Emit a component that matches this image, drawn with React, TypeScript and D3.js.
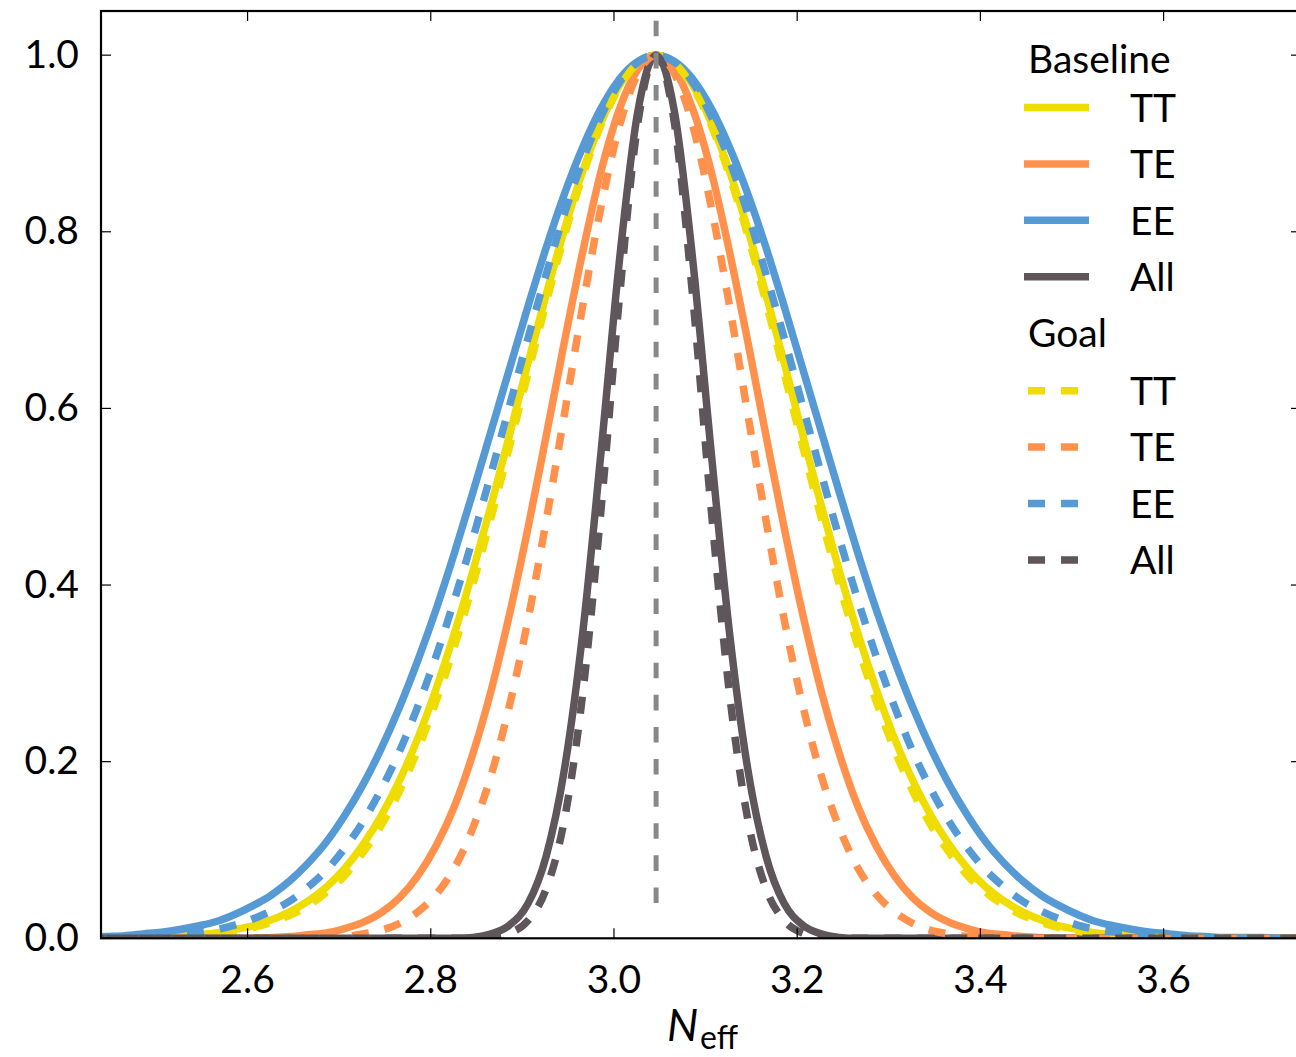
import React from 'react';
import * as d3 from 'd3';

// x grid (N_eff)
const xs = [
  2.426, 2.446, 2.466, 2.486, 2.506, 2.526, 2.546, 2.566, 2.586, 2.606,
  2.626, 2.646, 2.666, 2.686, 2.706, 2.726, 2.746, 2.766, 2.786, 2.806,
  2.826, 2.846, 2.866, 2.886, 2.906, 2.926, 2.946, 2.966, 2.986, 3.006,
  3.026, 3.046, 3.066, 3.086, 3.106, 3.126, 3.146, 3.166, 3.186, 3.206,
  3.226, 3.246, 3.266, 3.286, 3.306, 3.326, 3.346, 3.366, 3.386, 3.406,
  3.426, 3.446, 3.466, 3.486, 3.506, 3.526, 3.546, 3.566, 3.586, 3.606,
  3.626, 3.646, 3.666, 3.686, 3.706, 3.726, 3.746, 3.766,
];

const baselineTT = [
  0, 0, 0.001, 0.001, 0.002, 0.003, 0.004, 0.006, 0.010, 0.014,
  0.021, 0.030, 0.042, 0.058, 0.079, 0.106, 0.139, 0.179, 0.227, 0.283,
  0.346, 0.416, 0.491, 0.570, 0.651, 0.729, 0.803, 0.869, 0.924, 0.966, 0.991,
  1.0,
  0.991, 0.966, 0.924, 0.869, 0.803, 0.729, 0.651, 0.570, 0.491, 0.416,
  0.346, 0.283, 0.227, 0.179, 0.139, 0.106, 0.079, 0.058, 0.042, 0.030,
  0.021, 0.014, 0.010, 0.006, 0.004, 0.003, 0.002, 0.001, 0.001,
  0, 0, 0, 0, 0, 0, 0,
];

const baselineTE = [
  0, 0, 0, 0, 0, 0, 0, 0, 0, 0,
  0.001, 0.002, 0.004, 0.006, 0.011, 0.018, 0.029, 0.046, 0.071, 0.105,
  0.150, 0.209, 0.281, 0.367, 0.464, 0.569, 0.676, 0.778, 0.869, 0.939, 0.984,
  1.0,
  0.984, 0.939, 0.869, 0.778, 0.676, 0.569, 0.464, 0.367, 0.281, 0.209,
  0.150, 0.105, 0.071, 0.046, 0.029, 0.018, 0.011, 0.006, 0.004, 0.002,
  0.001,
  0, 0, 0, 0, 0, 0, 0, 0, 0, 0, 0, 0, 0, 0, 0,
];

const baselineEE = [
  0.001, 0.002, 0.003, 0.005, 0.007, 0.010, 0.014, 0.019, 0.027, 0.037,
  0.049, 0.065, 0.085, 0.109, 0.139, 0.174, 0.215, 0.262, 0.315, 0.373,
  0.437, 0.505, 0.575, 0.645, 0.715, 0.782, 0.843, 0.896, 0.940, 0.973, 0.993,
  1.0,
  0.993, 0.973, 0.940, 0.896, 0.843, 0.782, 0.715, 0.645, 0.575, 0.505,
  0.437, 0.373, 0.315, 0.262, 0.215, 0.174, 0.139, 0.109, 0.085, 0.065,
  0.049, 0.037, 0.027, 0.019, 0.014, 0.010, 0.007, 0.005, 0.003, 0.002,
  0.001, 0.001, 0.001, 0, 0, 0,
];

const baselineAll = [
  0, 0, 0, 0, 0, 0, 0, 0, 0, 0,
  0, 0, 0, 0, 0, 0, 0, 0, 0, 0, 0,
  0.001, 0.005, 0.015, 0.039, 0.093, 0.192, 0.347, 0.552, 0.768, 0.936,
  1.0,
  0.936, 0.768, 0.552, 0.347, 0.192, 0.093, 0.039, 0.015, 0.005, 0.001,
  0, 0, 0, 0, 0, 0, 0, 0, 0, 0, 0, 0, 0,
  0, 0, 0, 0, 0, 0, 0, 0, 0, 0, 0, 0, 0,
];

const goalTT = [
  0, 0, 0,
  0.001, 0.001, 0.002, 0.003, 0.005, 0.008, 0.012, 0.018, 0.026, 0.037,
  0.052, 0.071, 0.097, 0.128, 0.167, 0.214, 0.269, 0.331, 0.401, 0.477,
  0.557, 0.639, 0.720, 0.796, 0.864, 0.921, 0.964, 0.991,
  1.0,
  0.991, 0.964, 0.921, 0.864, 0.796, 0.720, 0.639, 0.557, 0.477, 0.401,
  0.331, 0.269, 0.214, 0.167, 0.128, 0.097, 0.071, 0.052, 0.037, 0.026,
  0.018, 0.012, 0.008, 0.005, 0.003, 0.002, 0.001, 0.001,
  0, 0, 0, 0, 0, 0, 0, 0,
];

const goalTE = [
  0, 0, 0, 0, 0, 0, 0, 0, 0, 0, 0, 0,
  0.001, 0.001, 0.002, 0.005, 0.009, 0.017, 0.030, 0.050, 0.080, 0.125,
  0.185, 0.264, 0.360, 0.473, 0.594, 0.717, 0.829, 0.920, 0.979,
  1.0,
  0.979, 0.920, 0.829, 0.717, 0.594, 0.473, 0.360, 0.264, 0.185, 0.125,
  0.080, 0.050, 0.030, 0.017, 0.009, 0.005, 0.002, 0.001, 0.001,
  0, 0, 0, 0, 0, 0, 0, 0, 0, 0, 0, 0, 0, 0, 0, 0, 0,
];

const goalEE = [
  0,
  0.001, 0.001, 0.002, 0.003, 0.005, 0.007, 0.010, 0.015, 0.022, 0.031,
  0.042, 0.058, 0.077, 0.102, 0.132, 0.169, 0.212, 0.263, 0.320, 0.384,
  0.453, 0.527, 0.603, 0.679, 0.752, 0.821, 0.881, 0.931, 0.969, 0.992,
  1.0,
  0.992, 0.969, 0.931, 0.881, 0.821, 0.752, 0.679, 0.603, 0.527, 0.453,
  0.384, 0.320, 0.263, 0.212, 0.169, 0.132, 0.102, 0.077, 0.058, 0.042,
  0.031, 0.022, 0.015, 0.010, 0.007, 0.005, 0.003, 0.002, 0.001, 0.001,
  0, 0, 0, 0, 0, 0,
];

const goalAll = [
  0, 0, 0, 0, 0, 0, 0, 0, 0, 0, 0,
  0, 0, 0, 0, 0, 0, 0, 0, 0, 0, 0,
  0.002, 0.006, 0.020, 0.056, 0.135, 0.278, 0.487, 0.726, 0.923,
  1.0,
  0.923, 0.726, 0.487, 0.278, 0.135, 0.056, 0.020, 0.006, 0.002,
  0, 0, 0, 0, 0, 0, 0, 0, 0, 0, 0, 0, 0, 0,
  0, 0, 0, 0, 0, 0, 0, 0, 0, 0, 0, 0, 0,
];

const xTicks = [2.6, 2.8, 3.0, 3.2, 3.4, 3.6];
const yTicks = [0.0, 0.2, 0.4, 0.6, 0.8, 1.0];
const fiducialNeff = 3.046;
const groupTitles = ['Baseline', 'Goal'];
const probeNames = ['TT', 'TE', 'EE', 'All'];
const baselineSeries = [baselineTT, baselineTE, baselineEE, baselineAll];
const goalSeries = [goalTT, goalTE, goalEE, goalAll];

// styles
const probeColors = ['#EFDC00', '#FF914D', '#559AD4', '#5E565B'];
const W = 1296;
const H = 1057;
const PL = 101, PR = 1301, PT = 11, PB = 938.3;
const LW = 7.5;
const DASH = '17 16';
const FONT = 'Lato, "Open Sans", sans-serif';

export default function App() {
  const x = d3.scaleLinear().domain([2.44, 3.75]).range([PL, PR]);
  const y = d3.scaleLinear().domain([0, 1.05]).range([PB, PT]);

  const makePath = (vals: number[]) => {
    const n = Math.min(vals.length, xs.length);
    const pts: [number, number][] = [];
    for (let i = 0; i < n; i++) pts.push([xs[i], vals[i]]);
    return d3
      .line<[number, number]>()
      .x((d) => x(d[0]))
      .y((d) => y(d[1]))
      .curve(d3.curveMonotoneX)(pts) as string;
  };

  const fx = x(fiducialNeff);
  const rowStep = 56.4;
  const baseRow0 = 107.5;
  const goalRow0 = 390.7;

  return (
    <svg
      width={W}
      height={H}
      viewBox={`0 0 ${W} ${H}`}
      style={{ position: 'absolute', left: 0, top: 0, display: 'block', background: '#fff' }}
      fontFamily={FONT}
    >
      <defs>
        <clipPath id="plotclip">
          <rect x={PL} y={PT} width={PR - PL} height={PB - PT} />
        </clipPath>
      </defs>
      <rect x={0} y={0} width={W} height={H} fill="#fff" />

      <g clipPath="url(#plotclip)">
        {baselineSeries.map((vals, i) => (
          <path
            key={'b' + i}
            d={makePath(vals)}
            fill="none"
            stroke={probeColors[i]}
            strokeWidth={LW}
            strokeLinejoin="round"
          />
        ))}
        {goalSeries.map((vals, i) => (
          <path
            key={'g' + i}
            d={makePath(vals)}
            fill="none"
            stroke={probeColors[i]}
            strokeWidth={LW}
            strokeDasharray={DASH}
          />
        ))}
        <line
          x1={fx}
          x2={fx}
          y1={903}
          y2={PT - 40}
          stroke="#888888"
          strokeWidth={5}
          strokeDasharray="15.6 16.5"
        />
      </g>

      {/* ticks */}
      {xTicks.map((t) => (
        <g key={'xt' + t}>
          <line x1={x(t)} x2={x(t)} y1={PB} y2={PB - 10} stroke="#000" strokeWidth={1.2} />
          <line x1={x(t)} x2={x(t)} y1={PT} y2={PT + 10} stroke="#000" strokeWidth={1.2} />
          <text x={x(t)} y={993} fontSize={39} textAnchor="middle" fill="#000">
            {t.toFixed(1)}
          </text>
        </g>
      ))}
      {yTicks.map((t) => (
        <g key={'yt' + t}>
          <line x1={PL} x2={PL + 10} y1={y(t)} y2={y(t)} stroke="#000" strokeWidth={1.2} />
          <line x1={PR} x2={PR - 10} y1={y(t)} y2={y(t)} stroke="#000" strokeWidth={1.2} />
          <text x={79} y={y(t) + 12.5} fontSize={39} textAnchor="end" fill="#000">
            {t.toFixed(1)}
          </text>
        </g>
      ))}

      {/* frame */}
      <rect x={PL} y={PT} width={PR - PL} height={PB - PT} fill="none" stroke="#000" strokeWidth={2.2} />

      {/* x label */}
      <text x={667} y={1041} fontSize={44} fontStyle="italic" fill="#000">N</text>
      <text x={700} y={1049} fontSize={32} fill="#000">eff</text>

      {/* legend */}
      <text x={1028} y={73.3} fontSize={39} fill="#000">{groupTitles[0]}</text>
      {probeNames.map((name, i) => {
        const ry = baseRow0 + i * rowStep;
        return (
          <g key={'lb' + name}>
            <line x1={1024} x2={1089} y1={ry} y2={ry} stroke={probeColors[i]} strokeWidth={LW} />
            <text x={1130} y={ry + 14.2} fontSize={39} fill="#000">{name}</text>
          </g>
        );
      })}
      <text x={1028} y={346.7} fontSize={39} fill="#000">{groupTitles[1]}</text>
      {probeNames.map((name, i) => {
        const ry = goalRow0 + i * rowStep;
        return (
          <g key={'lg' + name}>
            <line
              x1={1028}
              x2={1089}
              y1={ry}
              y2={ry}
              stroke={probeColors[i]}
              strokeWidth={LW}
              strokeDasharray={DASH}
            />
            <text x={1130} y={ry + 14.2} fontSize={39} fill="#000">{name}</text>
          </g>
        );
      })}
    </svg>
  );
}
